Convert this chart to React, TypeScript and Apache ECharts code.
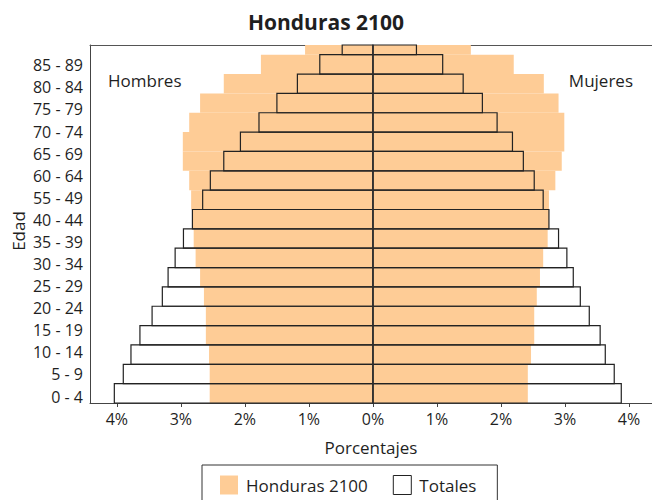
import React, { useEffect, useRef } from "react";
import * as echarts from "echarts";

// Age groups (rows, bottom to top); the top row is only half visible in the original
const ageGroups = [
  "0 - 4", "5 - 9", "10 - 14", "15 - 19", "20 - 24", "25 - 29", "30 - 34", "35 - 39",
  "40 - 44", "45 - 49", "50 - 54", "55 - 59", "60 - 64", "65 - 69", "70 - 74", "75 - 79",
  "80 - 84", "85 - 89", "90 - 94",
];

// Axis labels exactly as printed on the original (16 evenly spaced labels)
const axisAgeLabels = [
  "0 - 4", "5 - 9", "10 - 14", "15 - 19", "20 - 24", "25 - 29", "30 - 34", "35 - 39",
  "40 - 44", "55 - 49", "60 - 64", "65 - 69", "70 - 74", "75 - 79", "80 - 84", "85 - 89",
];
const axisAgeTicks = [0, 1, 2, 3, 4, 5, 6, 7, 8, 9, 10, 11, 12, 13, 14, 15];

// Percentages
const hondurasHombres = [2.55, 2.55, 2.56, 2.61, 2.61, 2.64, 2.70, 2.77, 2.80, 2.82, 2.84, 2.87, 2.97, 2.97, 2.87, 2.70, 2.33, 1.75, 1.06];
const hondurasMujeres = [2.42, 2.42, 2.47, 2.52, 2.52, 2.56, 2.61, 2.66, 2.73, 2.75, 2.75, 2.85, 2.95, 2.99, 2.99, 2.90, 2.67, 2.20, 1.53];
const totalesHombres = [4.04, 3.90, 3.78, 3.64, 3.45, 3.29, 3.20, 3.09, 2.96, 2.82, 2.66, 2.54, 2.33, 2.07, 1.78, 1.50, 1.18, 0.83, 0.48];
const totalesMujeres = [3.88, 3.77, 3.63, 3.55, 3.38, 3.24, 3.13, 3.03, 2.90, 2.75, 2.66, 2.52, 2.35, 2.18, 1.94, 1.71, 1.41, 1.09, 0.68];

const xTicks = [-4, -3, -2, -1, 0, 1, 2, 3, 4];

const FONT = '"Open Sans", "Noto Sans", sans-serif';
const TEXT = "#1f1f1f";
const ORANGE = "#FECC96";

export default function App() {
  const ref = useRef<HTMLDivElement>(null);

  useEffect(() => {
    document.body.style.margin = "0";
    const chart = echarts.init(ref.current!, null, { renderer: "svg" });

    const hondurasData = ageGroups.flatMap((_, i) => [
      [-hondurasHombres[i], i],
      [hondurasMujeres[i], i],
    ]);
    const totalesData = ageGroups.flatMap((_, i) => [
      [-totalesHombres[i], i],
      [totalesMujeres[i], i],
    ]);

    const makeRender = (fill: string, stroke: string | null) => (params: any, api: any) => {
      const x = api.value(0);
      const i = api.value(1);
      const a = api.coord([0, i]);
      const b = api.coord([x, i + 1]);
      const cs = params.coordSys;
      let top = Math.min(a[1], b[1]);
      const bottom = Math.max(a[1], b[1]);
      top = Math.max(top, cs.y);
      const left = Math.min(a[0], b[0]);
      const w = Math.abs(b[0] - a[0]);
      return {
        type: "rect",
        shape: { x: left, y: top, width: w, height: bottom - top },
        style: stroke
          ? { fill: "none", stroke, lineWidth: 1.2 }
          : { fill, stroke: "none" },
      };
    };

    const xMin = -4.42;
    const xMax = 4.36;

    chart.setOption({
      animation: false,
      textStyle: { fontFamily: FONT, color: TEXT },
      title: {
        text: "Honduras 2100",
        left: "center",
        top: 6,
        padding: [5, 0, 5, 14],
        textStyle: { fontFamily: FONT, fontSize: 21, fontWeight: "bold", color: TEXT },
      },
      grid: { left: 90, right: 0, top: 45, bottom: 97 },
      legend: {
        left: 202,
        top: 465,
        padding: [10, 21, 10, 18],
        borderColor: "#333",
        borderWidth: 1,
        itemWidth: 18,
        itemHeight: 19,
        itemGap: 25,
        selectedMode: false,
        textStyle: { fontFamily: FONT, fontSize: 17, color: TEXT, padding: [0, 0, 0, 3] },
        data: [
          { name: "Honduras 2100", icon: "rect", itemStyle: { color: ORANGE, borderWidth: 0 } },
          { name: "Totales", icon: "rect", itemStyle: { color: "#fff", borderColor: "#222", borderWidth: 1 } },
        ],
      },
      xAxis: [
        {
          type: "value",
          min: xMin,
          max: xMax,
          name: "Porcentajes",
          nameLocation: "middle",
          nameGap: 36,
          nameTextStyle: { fontFamily: FONT, fontSize: 17, color: TEXT },
          axisLine: { show: true, lineStyle: { color: "#444", width: 1 } },
          axisTick: { show: true, length: 4, customValues: xTicks, lineStyle: { color: "#444" } },
          axisLabel: {
            customValues: xTicks,
            margin: 8,
            fontFamily: FONT,
            fontSize: 16,
            color: TEXT,
            formatter: (v: number) => `${Math.abs(Math.round(v))}%`,
          },
          splitLine: { show: false },
        },
        {
          type: "value",
          position: "top",
          min: xMin,
          max: xMax,
          axisLine: { show: true, onZero: false, lineStyle: { color: "#555", width: 1 } },
          axisTick: { show: false },
          axisLabel: { show: false },
          splitLine: { show: false },
        },
      ],
      yAxis: [
        {
          type: "value",
          min: 0,
          max: 18.5,
          show: false,
          splitLine: { show: false },
        },
        {
          type: "value",
          min: -0.294,
          max: 15.92,
          position: "left",
          axisLine: { show: true, onZero: false, lineStyle: { color: "#444", width: 1 } },
          axisTick: { show: false },
          splitLine: { show: false },
          axisLabel: {
            customValues: axisAgeTicks,
            margin: 7,
            fontFamily: FONT,
            fontSize: 16,
            color: TEXT,
            formatter: (v: number) => axisAgeLabels[Math.round(v)] ?? "",
          },
        },
      ],
      graphic: [
        {
          type: "text",
          x: 108,
          y: 80,
          style: { text: "Hombres", font: `17px ${FONT}`, fill: TEXT, verticalAlign: "middle" },
        },
        {
          type: "text",
          x: 633,
          y: 80,
          style: { text: "Mujeres", font: `17px ${FONT}`, fill: TEXT, align: "right", verticalAlign: "middle" },
        },
        {
          type: "text",
          x: 18,
          y: 231,
          rotation: Math.PI / 2,
          style: { text: "Edad", font: `17px ${FONT}`, fill: TEXT, align: "center", verticalAlign: "middle" },
        },
      ],
      series: [
        {
          name: "Honduras 2100",
          type: "custom",
          xAxisIndex: 0,
          yAxisIndex: 0,
          z: 2,
          itemStyle: { color: ORANGE },
          encode: { x: 0, y: 1 },
          renderItem: makeRender(ORANGE, null),
          data: hondurasData,
        },
        {
          name: "Totales",
          type: "custom",
          xAxisIndex: 0,
          yAxisIndex: 0,
          z: 3,
          itemStyle: { color: "#fff", borderColor: "#222", borderWidth: 1 },
          encode: { x: 0, y: 1 },
          renderItem: makeRender("none", "#222"),
          data: totalesData,
        },
        {
          name: "zero",
          type: "line",
          xAxisIndex: 0,
          yAxisIndex: 0,
          z: 4,
          symbol: "none",
          silent: true,
          lineStyle: { color: "#333", width: 1.3 },
          data: [[0, 0], [0, 18.5]],
        },
      ],
    });

    return () => chart.dispose();
  }, []);

  return <div ref={ref} style={{ width: 652, height: 500 }} />;
}
